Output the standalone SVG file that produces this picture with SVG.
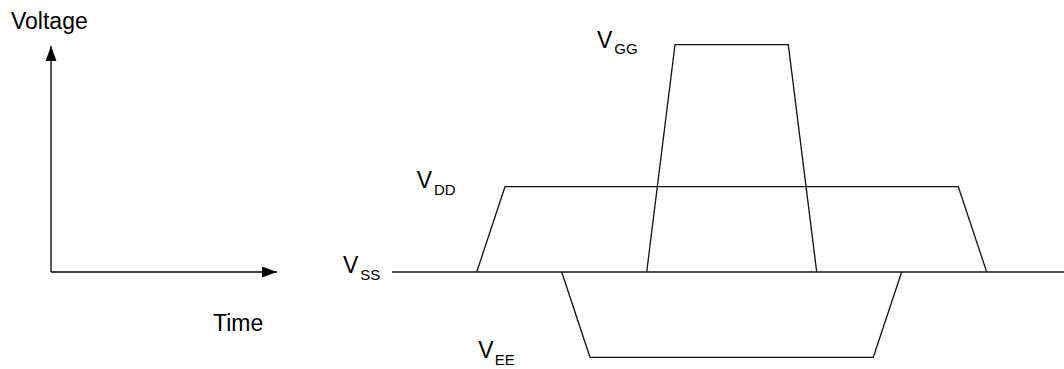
<svg xmlns="http://www.w3.org/2000/svg" width="1064" height="369" viewBox="0 0 1064 369">
  <style>
    .lbl { font-family: "Liberation Sans", Arial, sans-serif; font-size: 23px; fill: #000; }
    .sub { font-size: 15px; }
    .axis { fill: none; stroke: #000; stroke-width: 1.3; }
    .wave { fill: none; stroke: #111; stroke-width: 1.3; stroke-linejoin: miter; }
  </style>
  <defs>
    <marker id="arrow" markerUnits="userSpaceOnUse" markerWidth="16" markerHeight="12" refX="15" refY="5.5" orient="auto">
      <path d="M0,0 L15,5.5 L0,11 z" fill="#000"/>
    </marker>
  </defs>
  <rect width="1064" height="369" fill="#fff"/>

  <g id="connectors">
    <line class="axis" x1="51" y1="272" x2="51" y2="46" marker-end="url(#arrow)"/>
    <line class="axis" x1="51" y1="272" x2="277" y2="272" marker-end="url(#arrow)"/>
    <line id="vss-line" class="wave" x1="392" y1="272" x2="1064" y2="272"/>
    <polyline id="vdd-wave" class="wave" points="476.7,272 505,186.7 958.3,186.7 986.7,272"/>
    <polyline id="vgg-wave" class="wave" points="646.7,272 675,44.7 788.3,44.7 816.7,272"/>
    <polyline id="vee-wave" class="wave" points="561.7,272 590,357.3 873.3,357.3 901.7,272"/>
  </g>

  <g id="label-voltage"><text class="lbl" x="11" y="28.5">Voltage</text></g>
  <g id="label-time"><text class="lbl" x="213" y="330.5">Time</text></g>
  <g id="label-vss"><text class="lbl" x="343" y="273.3">V<tspan class="sub" dx="2" dy="7">SS</tspan></text></g>
  <g id="label-vdd"><text class="lbl" x="416.7" y="188.3">V<tspan class="sub" dx="2" dy="7">DD</tspan></text></g>
  <g id="label-vgg"><text class="lbl" x="597" y="48.3">V<tspan class="sub" dx="2" dy="6">GG</tspan></text></g>
  <g id="label-vee"><text class="lbl" x="478.3" y="358.3">V<tspan class="sub" dx="1" dy="7">EE</tspan></text></g>
</svg>
